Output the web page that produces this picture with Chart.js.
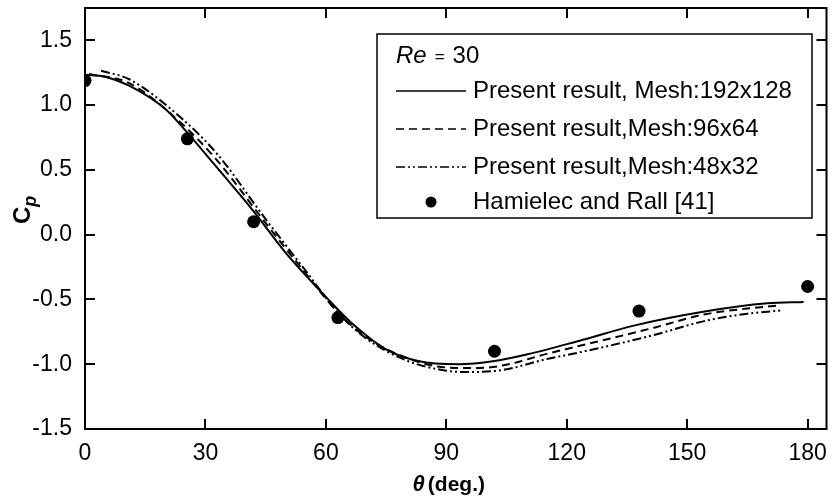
<!DOCTYPE html>
<html>
<head>
<meta charset="utf-8">
<script src="https://cdn.jsdelivr.net/npm/chart.js@4.4.1/dist/chart.umd.min.js"></script>
<style>
  html, body { margin: 0; padding: 0; background: #fff; }
  #wrap { width: 833px; height: 499px; }
</style>
</head>
<body>
<div id="wrap"><canvas id="cpChart" width="833" height="499"></canvas></div>
<script>
// Pressure coefficient on the cylinder surface, Re = 30
const xTicks = [0, 30, 60, 90, 120, 150, 180];
const yTicks = [-1.5, -1.0, -0.5, 0.0, 0.5, 1.0, 1.5];

// Mesh 192x128 (solid)
const theta192 = [0, 5, 11, 20, 24, 32, 42, 50, 60, 66, 75, 83, 93, 102, 110, 123, 137, 154, 170, 179];
const cp192 = [1.235, 1.22, 1.15, 0.97, 0.84, 0.55, 0.18, -0.14, -0.48, -0.67, -0.885, -0.975, -1.0, -0.975, -0.925, -0.82, -0.70, -0.595, -0.53, -0.52];

// Mesh 96x64 (dashed)
const theta96 = [1, 11, 24, 33, 45, 55, 63, 70, 80, 90, 97, 104, 115, 123, 142, 154, 165, 172.5];
const cp96 = [1.24, 1.17, 0.86, 0.57, 0.09, -0.30, -0.60, -0.79, -0.95, -1.025, -1.03, -1.01, -0.92, -0.86, -0.716, -0.617, -0.57, -0.548];

// Mesh 48x32 (dash-dot)
const theta48 = [4, 11, 24, 33, 45, 55, 63, 70, 80, 90, 96, 104, 115, 123, 142, 154, 165, 173.5];
const cp48 = [1.265, 1.20, 0.90, 0.62, 0.12, -0.28, -0.60, -0.80, -0.97, -1.05, -1.06, -1.045, -0.96, -0.91, -0.772, -0.669, -0.61, -0.585];

// Hamielec and Rall [41]
const thetaRef = [0, 25.5, 42, 63, 102, 138, 180];
const cpRef = [1.19, 0.74, 0.10, -0.64, -0.90, -0.59, -0.40];

const FONT = 'Arial, "Liberation Sans", sans-serif';

const toPoints = (xs, ys) => xs.map((v, i) => ({ x: v, y: ys[i] }));

// frame with inward ticks on all four sides
const framePlugin = {
  id: 'frame',
  afterDraw(chart) {
    const { ctx, chartArea: a, scales: { x, y } } = chart;
    ctx.save();
    ctx.strokeStyle = '#000';
    ctx.lineWidth = 2;
    ctx.strokeRect(a.left, a.top, a.right - a.left, a.bottom - a.top);
    ctx.beginPath();
    xTicks.forEach(v => {
      const px = Math.round(x.getPixelForValue(v));
      ctx.moveTo(px, a.bottom); ctx.lineTo(px, a.bottom - 10);
      ctx.moveTo(px, a.top); ctx.lineTo(px, a.top + 10);
    });
    yTicks.forEach(v => {
      const py = Math.round(y.getPixelForValue(v));
      ctx.moveTo(a.left, py); ctx.lineTo(a.left + 10, py);
      ctx.moveTo(a.right, py); ctx.lineTo(a.right - 10, py);
    });
    ctx.stroke();

    // axis titles
    ctx.fillStyle = '#000';
    ctx.textBaseline = 'alphabetic';
    // x title: italic theta + (deg.)
    const cx = (a.left + a.right) / 2 - 7;
    ctx.font = 'italic bold 22px ' + FONT;
    const wTh = ctx.measureText('θ').width;
    ctx.font = 'bold 21px ' + FONT;
    const wDeg = ctx.measureText('(deg.)').width;
    const startX = cx - (wTh + 3 + wDeg) / 2;
    ctx.textAlign = 'left';
    ctx.font = 'italic bold 22px ' + FONT;
    ctx.fillText('θ', startX, 491);
    ctx.font = 'bold 21px ' + FONT;
    ctx.fillText('(deg.)', startX + wTh + 3, 491);

    // y title: C with subscript p, rotated
    ctx.translate(30, 213);
    ctx.rotate(-Math.PI / 2);
    ctx.font = 'bold 24px ' + FONT;
    ctx.fillText('C', -11, 0);
    const wC = ctx.measureText('C').width;
    ctx.font = 'italic bold 18px ' + FONT;
    ctx.fillText('p', -11 + wC, 6);
    ctx.restore();
  }
};

// boxed legend in the upper right of the plot
const legendPlugin = {
  id: 'boxLegend',
  afterDraw(chart) {
    const { ctx } = chart;
    const left = 377, top = 34;
    const w = 435, h = 184;
    ctx.save();
    ctx.fillStyle = '#fff';
    ctx.fillRect(left, top, w, h);
    ctx.strokeStyle = '#000';
    ctx.lineWidth = 1.5;
    ctx.strokeRect(left, top, w, h);

    ctx.fillStyle = '#000';
    ctx.textBaseline = 'middle';
    ctx.textAlign = 'left';
    const rowY = [top + 22, top + 57, top + 95, top + 133, top + 168];
    // header: Re = 30
    ctx.font = 'italic 24px ' + FONT;
    ctx.fillText('Re', left + 19, rowY[0]);
    let px = left + 19 + ctx.measureText('Re').width + 8;
    ctx.font = '17px ' + FONT;
    ctx.fillText('=', px, rowY[0] + 1);
    px += ctx.measureText('=').width + 8;
    ctx.font = '24px ' + FONT;
    ctx.fillText('30', px, rowY[0]);

    const sx0 = left + 19, sx1 = left + 89, tx = left + 96;
    chart.data.datasets.forEach((ds, i) => {
      const ry = rowY[i + 1];
      if (ds.showLine === false) {
        ctx.beginPath();
        ctx.arc((sx0 + sx1) / 2, ry, 5.5, 0, Math.PI * 2);
        ctx.fill();
      } else {
        ctx.save();
        ctx.lineWidth = 1.5;
        ctx.setLineDash(ds.borderDash || []);
        ctx.beginPath();
        ctx.moveTo(sx0, ry);
        ctx.lineTo(sx1, ry);
        ctx.stroke();
        ctx.restore();
      }
      ctx.font = '24px ' + FONT;
      ctx.fillText(ds.label, tx, ry);
    });
    ctx.restore();
  }
};

const lineSet = (label, xs, ys, dash) => ({
  label,
  data: toPoints(xs, ys),
  borderColor: '#000',
  borderWidth: 2,
  borderDash: dash,
  pointRadius: 0,
  fill: false,
  showLine: true,
  cubicInterpolationMode: 'monotone'
});

new Chart(document.getElementById('cpChart'), {
  type: 'line',
  data: {
    datasets: [
      lineSet('Present result, Mesh:192x128', theta192, cp192, []),
      lineSet('Present result,Mesh:96x64', theta96, cp96, [8, 5]),
      lineSet('Present result,Mesh:48x32', theta48, cp48, [9, 3, 2, 3, 2, 3]),
      {
        label: 'Hamielec and Rall [41]',
        data: toPoints(thetaRef, cpRef),
        showLine: false,
        pointRadius: 6.5,
        pointBackgroundColor: '#000',
        pointBorderColor: '#000',
        pointBorderWidth: 0
      }
    ]
  },
  options: {
    responsive: false,
    animation: false,
    events: [],
    layout: { padding: { left: 0, right: 3, top: 8, bottom: 0 } },
    plugins: {
      legend: { display: false },
      tooltip: { enabled: false }
    },
    scales: {
      x: {
        type: 'linear',
        min: 0,
        max: 184.7,
        afterBuildTicks: s => { s.ticks = xTicks.map(v => ({ value: v })); },
        afterFit: s => { s.height = 70; s.paddingLeft = 0; s.paddingRight = 0; },
        grid: { display: false, drawTicks: false },
        border: { display: false },
        ticks: {
          color: '#000',
          font: { family: FONT, size: 23 },
          padding: 11,
          maxRotation: 0,
          callback: v => String(v)
        }
      },
      y: {
        type: 'linear',
        min: -1.5,
        max: 1.75,
        afterBuildTicks: s => { s.ticks = yTicks.map(v => ({ value: v })); },
        afterFit: s => { s.width = 85; s.paddingTop = 0; s.paddingBottom = 0; },
        grid: { display: false, drawTicks: false },
        border: { display: false },
        ticks: {
          color: '#000',
          font: { family: FONT, size: 23 },
          padding: 13,
          callback: v => Number(v).toFixed(1)
        }
      }
    }
  },
  plugins: [framePlugin, legendPlugin]
});
</script>
</body>
</html>
